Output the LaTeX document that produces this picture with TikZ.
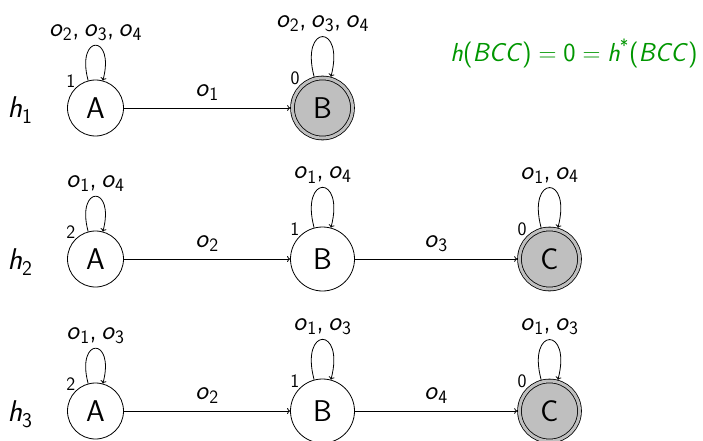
\documentclass[tikz,border=0pt]{standalone}
\renewcommand\familydefault{\sfdefault}
\usetikzlibrary{arrows.meta}
\definecolor{fgreen}{RGB}{0,150,0}
\newcommand\ob[1]{\textit{o}\textsubscript{#1}}
\newcommand\vi[1]{\textit{#1}}
\begin{document}
\begin{tikzpicture}[x=1pt,y=1pt]
\useasboundingbox (0,0) rectangle (703,-441);
\tikzset{
  st/.style={circle, draw, line width=0.8pt, inner sep=0pt, font=\fontsize{30}{34}\selectfont,
             label distance=7pt},
  sa/.style={st, minimum size=56pt},
  sb/.style={st, minimum size=64pt},
  acc/.style={st, minimum size=60pt, fill=gray!50, double=gray!50, double distance=3pt, outer sep=2.3pt},
  val/.style={font=\fontsize{19}{22}\selectfont, inner sep=0pt},
  lab/.style={font=\fontsize{27}{30}\selectfont, inner sep=7pt},
  llab/.style={lab, inner sep=4pt},
  tr/.style={-{To[length=3pt,width=6pt]}, line width=0.8pt},
  lp/.style={tr, loop above, looseness=8.5, min distance=5mm},
  hl/.style={font=\fontsize{30}{34}\selectfont},
  frm/.style={font=\fontsize{26}{30}\selectfont, text=fgreen},
}
% row 1
\node[sa, label={[val]135:1}] (A1) at (95.5,-108) {A};
\node[acc, label={[val]135:0}] (B1) at (322.5,-108) {B};
\node[hl] (h1) at (20,-110) {\vi{h}\textsubscript{1}};
\draw[tr] (A1) -- node[lab, above] {\ob{1}} (B1);
\path (A1) edge[lp] node[llab, above] {\ob{2},\,\ob{3},\,\ob{4}} (A1);
\path (B1) edge[lp] node[llab, above] {\ob{2},\,\ob{3},\,\ob{4}} (B1);
\node[frm] (f) at (574,-53) {\vi{h}(\vi{BCC})$\;=\;$0$\;=\;$\vi{h}\textsuperscript{*}(\vi{BCC})};
% row 2
\node[sa, label={[val]135:2}] (A2) at (95.5,-259) {A};
\node[sb, label={[val]135:1}] (B2) at (322.5,-259) {B};
\node[acc, label={[val]135:0}] (C2) at (549.5,-259) {C};
\node[hl] (h2) at (20,-262) {\vi{h}\textsubscript{2}};
\draw[tr] (A2) -- node[lab, above] {\ob{2}} (B2);
\draw[tr] (B2) -- node[lab, above] {\ob{3}} (C2);
\path (A2) edge[lp] node[llab, above] {\ob{1},\,\ob{4}} (A2);
\path (B2) edge[lp] node[llab, above] {\ob{1},\,\ob{4}} (B2);
\path (C2) edge[lp] node[llab, above] {\ob{1},\,\ob{4}} (C2);
% row 3
\node[sa, label={[val]135:2}] (A3) at (95.5,-411) {A};
\node[sb, label={[val]135:1}] (B3) at (322.5,-411) {B};
\node[acc, label={[val]135:0}] (C3) at (549.5,-411) {C};
\node[hl] (h3) at (20,-414) {\vi{h}\textsubscript{3}};
\draw[tr] (A3) -- node[lab, above] {\ob{2}} (B3);
\draw[tr] (B3) -- node[lab, above] {\ob{4}} (C3);
\path (A3) edge[lp] node[llab, above] {\ob{1},\,\ob{3}} (A3);
\path (B3) edge[lp] node[llab, above] {\ob{1},\,\ob{3}} (B3);
\path (C3) edge[lp] node[llab, above] {\ob{1},\,\ob{3}} (C3);
\end{tikzpicture}
\end{document}
